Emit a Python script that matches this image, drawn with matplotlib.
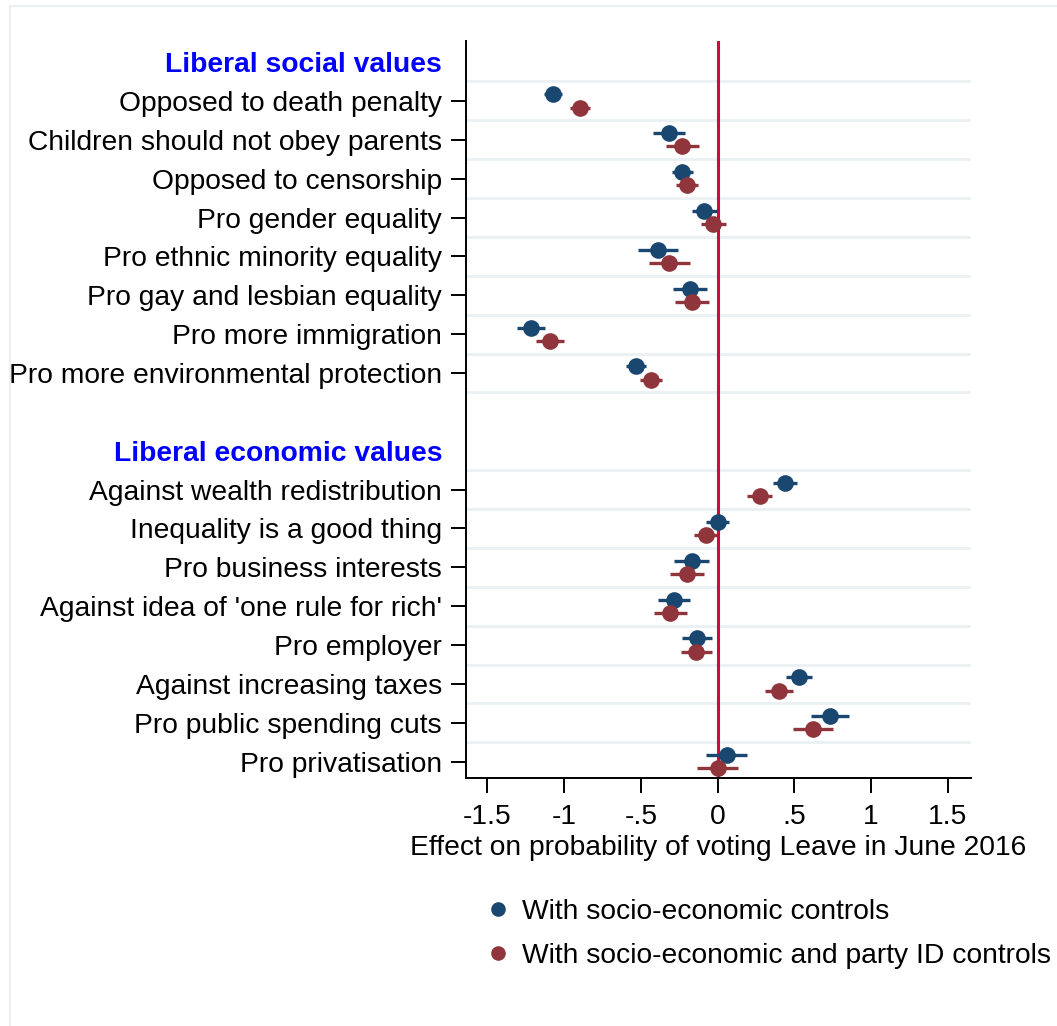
import numpy as np
import matplotlib.pyplot as plt
from matplotlib.lines import Line2D

plt.rcParams['font.family'] = ['Liberation Sans', 'DejaVu Sans']

# group headings and item labels
headers = ['Liberal social values', 'Liberal economic values']
social_labels = ['Opposed to death penalty', 'Children should not obey parents',
                 'Opposed to censorship', 'Pro gender equality',
                 'Pro ethnic minority equality', 'Pro gay and lesbian equality',
                 'Pro more immigration', 'Pro more environmental protection']
econ_labels = ['Against wealth redistribution', 'Inequality is a good thing',
               'Pro business interests', "Against idea of 'one rule for rich'",
               'Pro employer', 'Against increasing taxes',
               'Pro public spending cuts', 'Pro privatisation']

# model 1: socio-economic controls
b_se = [-1.072, -0.318, -0.229, -0.086, -0.389, -0.179, -1.213, -0.528,
        0.439, 0.001, -0.168, -0.281, -0.135, 0.530, 0.732, 0.060]
lo_se = [-1.128, -0.418, -0.294, -0.164, -0.519, -0.288, -1.303, -0.597,
         0.361, -0.075, -0.281, -0.385, -0.231, 0.446, 0.606, -0.075]
hi_se = [-1.016, -0.211, -0.161, -0.005, -0.255, -0.068, -1.124, -0.465,
         0.515, 0.077, -0.057, -0.179, -0.038, 0.617, 0.856, 0.190]

# model 2: socio-economic and party ID controls
b_pid = [-0.895, -0.229, -0.196, -0.027, -0.316, -0.168, -1.090, -0.433,
         0.277, -0.077, -0.200, -0.309, -0.140, 0.400, 0.624, 0.001]
lo_pid = [-0.960, -0.335, -0.270, -0.109, -0.448, -0.279, -1.181, -0.502,
          0.192, -0.153, -0.313, -0.415, -0.237, 0.311, 0.494, -0.135]
hi_pid = [-0.830, -0.122, -0.125, 0.055, -0.181, -0.057, -0.999, -0.365,
          0.357, -0.005, -0.086, -0.200, -0.038, 0.489, 0.753, 0.135]

xticks = [-1.5, -1, -0.5, 0, 0.5, 1, 1.5]
xticklabels = ['-1.5', '-1', '-.5', '0', '.5', '1', '1.5']

legend_labels = ['With socio-economic controls',
                 'With socio-economic and party ID controls']

blue = '#1a476f'
red = '#90353b'
FS = 20.3

# row positions: heading, items, blank row between groups
pos_all, lab_all, is_head, item_pos = [], [], [], []
p = 1
for h, labs in zip(headers, [social_labels, econ_labels]):
    pos_all.append(p); lab_all.append(h); is_head.append(True)
    p += 1
    for l in labs:
        pos_all.append(p); lab_all.append(l); is_head.append(False)
        item_pos.append(p)
        p += 1
    p += 1
item_pos = np.array(item_pos, dtype=float)

fig = plt.figure(figsize=(10.57, 10.26), dpi=100)
ax = fig.add_axes([0.4406, 0.2417, 0.478, 0.7179])

# grid lines between rows
for yp in pos_all:
    ax.axhline(yp + 0.5, color='#eaf0f3', lw=2.0, zorder=1)
ax.axvline(0, color='#cf0a3c', lw=2.2, zorder=2)

off = 0.17
for b, lo, hi, c, d in [(b_se, lo_se, hi_se, blue, -off), (b_pid, lo_pid, hi_pid, red, off)]:
    ax.hlines(item_pos + d, lo, hi, color=c, lw=2.4, zorder=3)
    ax.plot(b, item_pos + d, 'o', color=c, ms=12, mec='none', zorder=4)

ax.set_ylim(19.42, 0.47)
ax.set_xlim(-1.64, 1.65)
ax.set_yticks(pos_all)
ax.set_yticklabels(lab_all, fontsize=FS)
for t, h in zip(ax.yaxis.get_major_ticks(), is_head):
    if h:
        t.tick1line.set_visible(False)
        t.label1.set_color('#0000ff')
        t.label1.set_fontweight('bold')
ax.set_xticks(xticks)
ax.set_xticklabels(xticklabels, fontsize=FS)
ax.tick_params(axis='both', length=10.5, width=1.4, pad=6.5)
ax.tick_params(axis='x', pad=8)
ax.set_xlabel('Effect on probability of voting Leave in June 2016', fontsize=FS, labelpad=4)

for s in ['top', 'right']:
    ax.spines[s].set_visible(False)
for s in ['left', 'bottom']:
    ax.spines[s].set_linewidth(1.4)

# legend
handles = [Line2D([], [], ls='none', marker='o', ms=10.5, color=blue, mec='none'),
           Line2D([], [], ls='none', marker='o', ms=10.5, color=red, mec='none')]
fig.legend(handles, legend_labels, loc='upper left', bbox_to_anchor=(484 / 1057, 1 - 899 / 1026),
           frameon=False, fontsize=FS, borderpad=0, borderaxespad=0, handlelength=1.0,
           handletextpad=0.36, labelspacing=0.65)

# outer frame (left and top edges visible)
fig.add_artist(Line2D([10 / 1057, 10 / 1057], [0, 1 - 6 / 1026], color='#eaf0f3', lw=1.6))
fig.add_artist(Line2D([10 / 1057, 1], [1 - 6 / 1026, 1 - 6 / 1026], color='#eaf0f3', lw=1.6))

fig.savefig('out.png', dpi=100)
